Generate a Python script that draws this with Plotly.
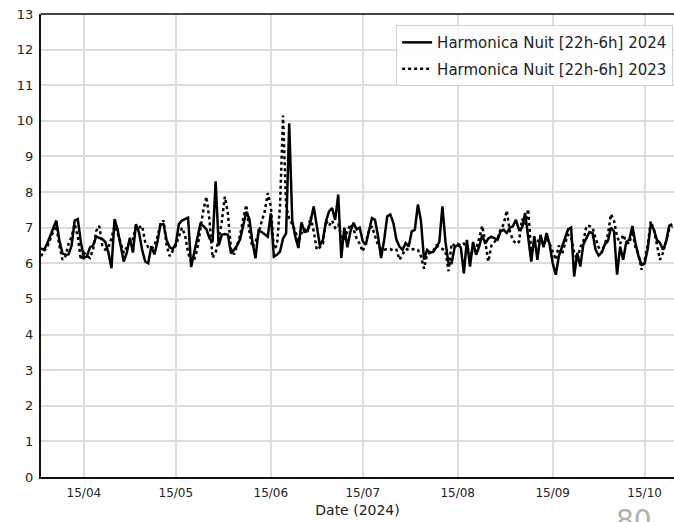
import pandas as pd
import plotly.graph_objects as go

# Daily values starting 1 April 2024 (2023 values aligned on the same calendar days)
start_date = "2024-04-01"
tick_dates = ["2024-04-15", "2024-05-15", "2024-06-15", "2024-07-15",
              "2024-08-15", "2024-09-15", "2024-10-15"]
tick_labels = ["15/04", "15/05", "15/06", "15/07", "15/08", "15/09", "15/10"]

nuit_2024 = [
    6.42, 6.38, 6.55, 6.75, 7.0, 7.2, 6.65, 6.28, 6.24, 6.25,
    6.5, 7.2, 7.24, 6.6, 6.15, 6.2, 6.45, 6.5, 6.75, 6.72,
    6.68, 6.6, 6.3, 5.86, 7.24, 6.95, 6.45, 6.05, 6.3, 6.72,
    6.3, 7.1, 6.86, 6.38, 6.05, 6.0, 6.48, 6.25, 6.6, 7.1,
    7.1, 6.65, 6.45, 6.4, 6.55, 7.1, 7.2, 7.25, 7.28, 5.9,
    6.3, 6.6, 7.1, 7.05, 6.95, 6.7, 6.6, 8.3, 6.5, 6.8,
    6.82, 6.8, 6.28, 6.38, 6.5, 6.68, 7.1, 7.45, 7.25, 6.6,
    6.14, 6.92, 6.88, 6.82, 6.75, 7.4, 6.19, 6.24, 6.33, 6.7,
    6.84, 9.93, 7.2, 6.75, 6.43, 7.15, 6.88, 6.9, 7.18, 7.6,
    7.0, 6.5, 6.66, 7.18, 7.46, 7.55, 7.22, 7.93, 6.15, 7.0,
    6.45, 6.9, 7.14, 6.95, 7.0, 6.62, 6.52, 6.94, 7.27, 7.22,
    6.76, 6.15, 6.66, 7.32, 7.37, 7.13, 6.66, 6.47, 6.38, 6.57,
    6.47, 6.9, 6.94, 7.65, 7.2, 6.1, 6.38, 6.3, 6.32, 6.45,
    6.6, 7.6, 6.6, 6.0, 6.0, 6.45, 6.52, 6.45, 5.72, 6.66,
    5.91, 6.6, 6.24, 6.47, 6.8, 6.55, 6.7, 6.75, 6.7, 6.66,
    6.9, 6.94, 6.85, 7.0, 7.04, 7.22, 6.94, 7.0, 7.41, 6.76,
    6.05, 6.76, 6.1, 6.8, 6.45, 6.85, 6.53, 6.0, 5.68, 6.2,
    6.47, 6.7, 6.95, 7.0, 5.63, 6.29, 5.91, 6.53, 6.7, 6.88,
    6.85, 6.38, 6.22, 6.3, 6.53, 6.62, 7.0, 6.9, 5.68, 6.47,
    6.1, 6.6, 6.66, 7.05, 6.57, 6.2, 5.96, 6.0, 6.4, 7.1,
    6.95, 6.66, 6.57, 6.38, 6.6, 7.05, 7.1,
]

nuit_2023 = [
    6.2, 6.35, 6.45, 6.67, 6.9, 7.05, 6.5, 6.1, 6.2, 6.55,
    6.75, 7.1, 6.75, 6.1, 6.3, 6.2, 6.15, 6.4, 6.9, 7.05,
    6.5, 6.38, 6.45, 6.7, 7.05, 6.85, 6.55, 6.29, 6.45, 6.6,
    6.67, 7.05, 7.0, 7.05, 6.6, 6.45, 6.4, 6.5, 6.75, 7.1,
    7.2, 6.5, 6.2, 6.35, 6.5, 6.75, 7.0, 6.8, 6.3, 6.05,
    6.1, 6.4, 6.95, 7.5, 7.87, 7.2, 6.15, 6.3, 6.7, 7.17,
    7.87, 7.4, 6.4, 6.25, 6.5, 6.8, 7.25, 7.64, 6.9, 6.45,
    6.6, 6.85, 7.17, 7.45, 7.97, 7.6, 6.4, 6.5, 7.6, 10.15,
    7.6, 7.25, 7.1, 6.9, 6.6, 6.85, 6.95, 6.9, 7.3, 6.9,
    6.38, 6.45, 6.55, 7.2, 7.05, 7.2, 7.0, 7.1, 6.76, 6.65,
    6.9, 7.1, 6.95, 6.7, 6.55, 6.33, 6.6, 6.9, 7.04, 6.8,
    6.5, 6.4, 6.38, 6.4, 6.4, 6.35, 6.38, 6.1, 6.25, 6.4,
    6.38, 6.4, 6.4, 6.38, 6.2, 5.85, 6.25, 6.3, 6.35, 6.5,
    6.45, 6.4, 6.35, 5.78, 6.55, 6.5, 6.55, 6.5, 6.55, 6.45,
    6.3, 6.25, 6.4, 6.7, 7.05, 6.6, 6.05, 6.5, 6.6, 6.7,
    6.95, 7.1, 7.48, 6.9, 6.65, 6.55, 6.6, 7.25, 7.1, 7.52,
    6.3, 6.5, 6.6, 6.75, 6.5, 6.7, 6.55, 6.3, 6.1, 6.5,
    6.25, 6.55, 6.8, 6.75, 6.3, 6.1, 6.45, 6.6, 7.05, 7.05,
    7.0, 6.7, 6.45, 6.3, 6.55, 6.8, 7.38, 7.2, 6.75, 6.55,
    6.8, 6.6, 6.55, 6.9, 6.45, 6.25, 5.82, 6.1, 6.5, 7.18,
    6.95, 6.5, 6.1, 6.3, 6.6, 6.95, 7.05,
]

series_names = ["Harmonica Nuit [22h-6h] 2024", "Harmonica Nuit [22h-6h] 2023"]
y_ticks = list(range(0, 14))

dates_2024 = pd.date_range(start_date, periods=len(nuit_2024), freq="D")
dates_2023 = pd.date_range(start_date, periods=len(nuit_2023), freq="D")

FONT = "DejaVu Sans, sans-serif"

fig = go.Figure()
fig.add_trace(go.Scatter(
    x=dates_2024, y=nuit_2024, mode="lines", name=series_names[0], legendgroup="a",
    line=dict(color="#000000", width=2.5),
))
fig.add_trace(go.Scatter(
    x=dates_2023, y=nuit_2023, mode="lines", name=series_names[1], legendgroup="b",
    line=dict(color="#000000", width=2.5, dash="dot"),
))

fig.update_layout(
    width=674, height=522,
    margin=dict(l=41, r=0, t=14, b=45, autoexpand=False),
    paper_bgcolor="white", plot_bgcolor="white",
    font=dict(family=FONT, size=12, color="#222222"),
    showlegend=True,
    legend=dict(
        x=0.561, xanchor="left", y=0.976, yanchor="top",
        bgcolor="rgba(255,255,255,0.9)", bordercolor="#d0d0d0", borderwidth=1,
        font=dict(family=FONT, size=15, color="#222222"),
        tracegroupgap=4,
    ),
    xaxis=dict(
        range=["2024-04-01", "2024-10-24 14:00"],
        tickvals=tick_dates, ticktext=tick_labels,
        showgrid=True, gridcolor="#dcdcdc", gridwidth=1.5,
        showline=True, linecolor="#111111", linewidth=2,
        ticks="", zeroline=False, automargin=False, ticklabelstandoff=4,
        tickfont=dict(family=FONT, size=12, color="#222222"),
        title=dict(text="Date (2024)", font=dict(family=FONT, size=14, color="#222222"), standoff=6),
    ),
    yaxis=dict(
        range=[0, 13],
        tickvals=y_ticks,
        showgrid=True, gridcolor="#dcdcdc", gridwidth=1.5,
        showline=True, linecolor="#111111", linewidth=2,
        ticks="", zeroline=False, ticklabelstandoff=3, automargin=False,
        tickfont=dict(family=FONT, size=13, color="#222222"),
    ),
    shapes=[dict(type="line", xref="paper", yref="paper", x0=0, x1=1, y0=1, y1=1,
                 line=dict(color="#444444", width=2))],
    annotations=[dict(text="80", xref="paper", yref="paper", x=0.937, y=-0.054,
                      xanchor="center", yanchor="top", showarrow=False,
                      font=dict(family="DejaVu Sans", size=28, color="#b0b0b0"))],
)

# remove the browser's default page margin so the figure sits at the window's corner
fig.write_html(
    "out.html",
    config={"displayModeBar": False},
    post_script="document.body.style.margin='0';document.body.style.overflow='hidden';",
)
